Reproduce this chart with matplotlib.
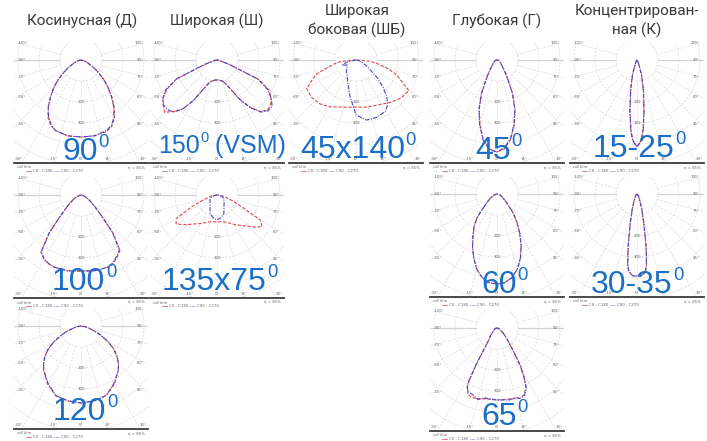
import numpy as np
import matplotlib.pyplot as plt
from matplotlib.patches import Circle

W, H = 707, 441
plt.rcParams['font.family'] = ['Roboto', 'DejaVu Sans']

RED = '#e0474c'   # C0-C180
BLUE = '#4646c8'  # C90-C270
GRID = '#dadada'
BIG = '#1c6fc6'

# angle from nadir (deg) and intensity (plot units)
d90_ang = [-90, -80, -70, -60, -55, -50, -45, -40, -35, -30, -25, -20, -10, 0,
           10, 20, 25, 30, 35, 40, 45, 50, 55, 60, 70, 80, 90]
d90_c0 = [0, 2, 6, 14, 20, 29, 38, 47, 57, 66, 72, 75, 77, 77,
          77, 76, 73, 67, 58, 48, 38, 29, 20, 14, 6, 2, 0]
d90_c90 = [0, 2, 6, 14, 20, 29, 38, 47, 57, 65, 71, 75, 77, 77,
           77, 75, 72, 66, 57, 47, 38, 29, 20, 14, 6, 2, 0]

w150_ang = list(range(-90, 91, 5))
w150_c0 = [0, 1, 2, 4, 14, 45, 57, 66, 70, 74, 67, 60, 46, 32, 25, 22, 21, 20, 20,
           20, 21, 22, 25, 32, 46, 58, 67, 71, 70, 66, 60, 46, 14, 4, 2, 1, 0]
w150_c90 = [0, 1, 2, 4, 13, 44, 59, 66, 70, 70, 68, 60, 46, 32, 25, 22, 21, 20, 20,
            20, 21, 22, 25, 32, 45, 58, 68, 72, 72, 66, 58, 45, 13, 4, 2, 1, 0]

wb_ang = [-90, -85, -80, -75, -70, -60, -50, -40, -30, -20, -10, 0,
          10, 20, 30, 40, 50, 60, 70, 75, 80, 85, 90]
wb_c0 = [0, 15, 22, 30, 43, 57, 58, 57, 54, 50, 48, 47,
         48, 49, 51, 55, 59, 61, 43, 33, 22, 15, 0]
wb_ang90 = [-90, -80, -70, -60, -50, -40, -30, -20, -10, 0,
            10, 20, 30, 35, 40, 45, 50, 60, 70, 80, 90]
wb_c90 = [0, 8, 15, 10, 12, 15, 18, 24, 36, 55,
          61, 61, 59, 55, 48, 38, 28, 13, 6, 3, 0]

g45_ang = [-90, -80, -70, -60, -50, -40, -35, -30, -25, -20, -15, -10, -5, 0,
           5, 10, 15, 20, 25, 30, 35, 40, 50, 60, 70, 80, 90]
g45_c0 = [0, 1, 2, 3, 5, 8, 13, 20, 36, 52, 66, 80, 89, 92,
          89, 80, 67, 53, 37, 21, 13, 8, 5, 3, 2, 1, 0]
g45_c90 = [0, 1, 2, 3, 5, 8, 13, 21, 37, 53, 67, 81, 90, 92,
           88, 79, 66, 52, 36, 20, 13, 8, 5, 3, 2, 1, 0]

k15_ang = [-90, -45, -30, -22, -17, -12, -8, -5, -3, 0, 3, 5, 8, 12, 17, 22, 30, 45, 90]
k15_c0 = [0, 1, 2, 5, 16, 31, 50, 70, 80, 87, 80, 70, 50, 31, 16, 5, 2, 1, 0]
k15_c90 = [0, 1, 2, 5, 15, 30, 51, 71, 81, 87, 81, 71, 51, 30, 15, 5, 2, 1, 0]

d100_ang = [-90, -80, -70, -60, -50, -45, -40, -35, -30, -25, -20, -10, 0,
            10, 20, 25, 30, 35, 40, 45, 50, 60, 70, 80, 90]
d100_c0 = [0, 1, 4, 9, 18, 28, 50, 70, 74, 76, 77, 77, 76,
           77, 77, 76, 72, 68, 50, 28, 18, 9, 4, 1, 0]
d100_c90 = [0, 1, 4, 9, 18, 28, 49, 69, 74, 76, 77, 77, 76,
            77, 77, 75, 71, 67, 49, 28, 18, 9, 4, 1, 0]

w135_ang = [-90, -80, -70, -65, -60, -55, -50, -45, -40, -30, -20, -10, 0,
            10, 20, 30, 40, 45, 50, 55, 60, 65, 70, 80, 90]
w135_c0 = [0, 6, 15, 28, 47, 50, 46, 42, 38, 33, 29, 27, 27,
           27, 29, 34, 40, 44, 50, 55, 50, 26, 16, 6, 0]
w135_ang90 = [-90, -80, -70, -60, -50, -40, -30, -20, -10, 0,
              10, 20, 30, 40, 50, 60, 70, 80, 90]
w135_c90 = [0, 2, 6, 8, 9, 11, 14, 20, 23, 25,
            23, 20, 14, 11, 9, 8, 6, 2, 0]

g60_ang = [-90, -80, -70, -60, -50, -45, -40, -35, -30, -25, -20, -15, -10, -5, 0,
           5, 10, 15, 20, 25, 30, 35, 40, 45, 50, 60, 70, 80, 90]
g60_c0 = [0, 1, 3, 7, 13, 19, 32, 40, 48, 58, 68, 78, 85, 89, 90,
          89, 85, 78, 68, 57, 45, 35, 25, 16, 11, 6, 3, 1, 0]
g60_c90 = [0, 1, 3, 7, 13, 19, 31, 40, 48, 58, 68, 78, 85, 89, 90,
           89, 85, 78, 69, 57, 46, 35, 26, 17, 11, 6, 3, 1, 0]

k30_ang = [-90, -40, -25, -18, -13, -10, -9, -7.5, -6, -3, 0,
           3, 6, 7.5, 9, 10, 13, 18, 25, 40, 90]
k30_c0 = [0, 2, 6, 15, 30, 50, 58, 72, 78, 82, 82,
          82, 79, 73, 60, 52, 31, 15, 6, 2, 0]
k30_c90 = [0, 2, 6, 15, 30, 49, 57, 71, 78, 82, 82,
           82, 78, 72, 59, 51, 30, 15, 6, 2, 0]

d120_ang = [-90, -80, -70, -65, -60, -55, -50, -45, -40, -30, -20, -10, 0,
            10, 20, 30, 40, 45, 50, 55, 60, 65, 70, 80, 90]
d120_c0 = [0, 5, 14, 22, 31, 40, 47, 53, 58, 67, 74, 76, 77,
           76, 74, 67, 58, 53, 47, 40, 31, 22, 14, 5, 0]
d120_c90 = [0, 5, 14, 22, 31, 40, 47, 53, 58, 66, 74, 76, 77,
            76, 74, 66, 58, 53, 47, 40, 31, 22, 14, 5, 0]

g65_ang = [-90, -80, -70, -60, -50, -40, -35, -33, -30, -28, -27, -24, -20, -15, -10, 0,
           10, 15, 18, 22, 26, 29, 32, 35, 40, 45, 50, 60, 70, 80, 90]
g65_c0 = [0, 1, 2, 3, 5, 10, 14, 17, 38, 58, 65, 72, 74, 73, 72, 72,
          72, 73, 74, 72, 66, 56, 44, 30, 18, 12, 8, 4, 2, 1, 0]
g65_c90 = [0, 1, 2, 3, 5, 10, 14, 18, 40, 60, 66, 70, 71, 74, 71, 72,
           73, 72, 74, 73, 67, 55, 43, 29, 18, 12, 8, 4, 2, 1, 0]

titles = [('Косинусная (Д)',), ('Широкая (Ш)',), ('Широкая', 'боковая (ШБ)'),
          ('Глубокая (Г)',), ('Концентрирован-', 'ная (К)')]
title_x = [82, 217, 357, 497, 637]

# centre of each diagram (px), curves, big label
panels = [
    (81, 60, d90_ang, d90_c0, d90_ang, d90_c90, '90', '', 62, 160, 23),
    (217, 60, w150_ang, w150_c0, w150_ang, w150_c90, '150', ' (VSM)', 158, 153, 18),
    (356, 60, wb_ang, wb_c0, wb_ang90, wb_c90, '45x140', '', 300, 158, 23),
    (497, 60, g45_ang, g45_c0, g45_ang, g45_c90, '45', '', 475, 159, 23),
    (637, 60, k15_ang, k15_c0, k15_ang, k15_c90, '15-25', '', 593, 157, 23),
    (81, 195, d100_ang, d100_c0, d100_ang, d100_c90, '100', '', 52, 290, 23),
    (217, 195, w135_ang, w135_c0, w135_ang90, w135_c90, '135x75', '', 162, 290, 23),
    (497, 194, g60_ang, g60_c0, g60_ang, g60_c90, '60', '', 481, 293, 23),
    (637, 194, k30_ang, k30_c0, k30_ang, k30_c90, '30-35', '', 591, 293, 23),
    (81, 326, d120_ang, d120_c0, d120_ang, d120_c90, '120', '', 53, 420, 23),
    (497, 328, g65_ang, g65_c0, g65_ang, g65_c90, '65', '', 481, 425, 23),
]

fig = plt.figure(figsize=(W / 100, H / 100), dpi=100)

def px_axes(x0, y0, x1, y1):
    return fig.add_axes([x0 / W, 1 - y1 / H, (x1 - x0) / W, (y1 - y0) / H])

small = dict(fontsize=2.8, color='#666666', family='DejaVu Sans')

for cx, cy, a0, c0, a90, c90, *_ in panels:
    ax = px_axes(cx - 67, cy - 17, cx + 67, cy + 103)
    ax.set_xlim(-67, 67)
    ax.set_ylim(103, -17)
    ax.axis('off')
    # polar grid
    for k in range(1, 7):
        ax.add_patch(Circle((0, 0), 21 * k, fill=False, ec=GRID, lw=0.5, ls=(0, (3, 2))))
    for a in range(-105, 106, 15):
        t = np.radians(a)
        solid = abs(a) == 90
        ax.plot([21 * np.sin(t), 200 * np.sin(t)], [21 * np.cos(t), 200 * np.cos(t)],
                color='#d2d2d2' if solid else GRID, lw=0.9 if solid else 0.5,
                ls='-' if solid else (0, (3, 2)))
    for k, s in zip((2, 3), ('200', '300')):
        ax.text(0, 21 * k, s, ha='center', va='center', **small)
    # curves
    t0 = np.radians(a0)
    t90 = np.radians(a90)
    ax.plot(np.array(c0) * np.sin(t0), np.array(c0) * np.cos(t0), color=RED, lw=0.8,
            ls=(0, (3, 1.5)))
    ax.plot(np.array(c90) * np.sin(t90), np.array(c90) * np.cos(t90), color=BLUE, lw=0.8,
            ls=(0, (4, 1.2, 1, 1.2)))
    # angle labels
    for a in (105, 90, 75, 60, 45):
        y = 64 / np.tan(np.radians(a))
        ax.text(-63, y, '-%d°' % a, ha='left', va='center', **small)
        ax.text(63, y, '%d°' % a, ha='right', va='center', **small)
    for a, x in zip((-30, -15, 0, 15, 30), (-62, -27, 0, 27, 62)):
        ax.text(x, 101, '%d°' % a, ha='center', va='bottom', **small)
    # bottom rule + footer
    ax.plot([-67, 67], [103, 103], color='#3a3a3a', lw=1.3, clip_on=False)
    ax.text(-64, 107.5, 'cd/ klm', ha='left', va='center', clip_on=False, **small)
    ax.text(64, 107.5, 'η = 85%', ha='right', va='center', clip_on=False, **small)
    ax.plot([-55, -50], [111, 111], color=RED, lw=0.5, clip_on=False)
    ax.text(-48, 111, 'C0 - C180', ha='left', va='center', clip_on=False, **small)
    ax.plot([-27, -22], [111, 111], color=BLUE, lw=0.5, ls=(0, (1, 1)), clip_on=False)
    ax.text(-20, 111, 'C90 - C270', ha='left', va='center', clip_on=False, **small)

top = fig.add_axes([0, 0, 1, 1])
top.set_xlim(0, W)
top.set_ylim(H, 0)
top.axis('off')

for x, lines in zip(title_x, titles):
    ys = [21] if len(lines) == 1 else [11, 30]
    for s, y in zip(lines, ys):
        top.text(x, y, s, ha='center', va='center', fontsize=11, color='#3a3a3a')

for cx, cy, a0, c0, a90, c90, lab, tail, lx, ly, fs in panels:
    t = top.text(lx, ly, lab, ha='left', va='baseline', fontsize=fs, color=BIG,
                 family='Liberation Sans')
    sup = top.annotate('0', xy=(1, 1), xycoords=t, xytext=(0.5, 2), textcoords='offset points',
                       ha='left', va='top', fontsize=fs * 0.58, color=BIG,
                       family='Liberation Sans')
    if tail:
        top.annotate(tail, xy=(1, 0), xycoords=t, xytext=(fs * 0.33, 0),
                     textcoords='offset points', ha='left', va='bottom', fontsize=fs,
                     color=BIG, family='Liberation Sans')

fig.savefig('out.png', dpi=100)
